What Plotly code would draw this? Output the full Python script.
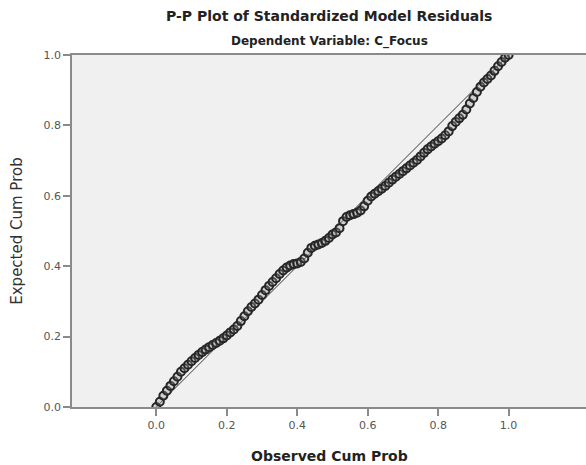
import plotly.graph_objects as go

observed = [0.00, 0.01, 0.02, 0.03, 0.04, 0.05, 0.06, 0.07, 0.08, 0.09,
            0.10, 0.11, 0.12, 0.13, 0.14, 0.15, 0.16, 0.17, 0.18, 0.19,
            0.20, 0.21, 0.22, 0.23, 0.24, 0.25, 0.26, 0.27, 0.28, 0.29,
            0.30, 0.31, 0.32, 0.33, 0.34, 0.35, 0.36, 0.37, 0.38, 0.39,
            0.40, 0.41, 0.42, 0.43, 0.44, 0.45, 0.46, 0.47, 0.48, 0.49,
            0.50, 0.51, 0.52, 0.53, 0.54, 0.55, 0.56, 0.57, 0.58, 0.59,
            0.60, 0.61, 0.62, 0.63, 0.64, 0.65, 0.66, 0.67, 0.68, 0.69,
            0.70, 0.71, 0.72, 0.73, 0.74, 0.75, 0.76, 0.77, 0.78, 0.79,
            0.80, 0.81, 0.82, 0.83, 0.84, 0.85, 0.86, 0.87, 0.88, 0.89,
            0.90, 0.91, 0.92, 0.93, 0.94, 0.95, 0.96, 0.97, 0.98, 0.99, 1.00]
expected = [0.000, 0.015, 0.032, 0.046, 0.060, 0.073, 0.086, 0.100, 0.110, 0.120,
            0.130, 0.139, 0.148, 0.156, 0.163, 0.170, 0.176, 0.182, 0.188, 0.195,
            0.203, 0.212, 0.220, 0.230, 0.244, 0.258, 0.272, 0.284, 0.294, 0.305,
            0.318, 0.332, 0.344, 0.355, 0.366, 0.378, 0.388, 0.396, 0.402, 0.406,
            0.408, 0.412, 0.422, 0.438, 0.452, 0.458, 0.462, 0.466, 0.472, 0.480,
            0.490, 0.496, 0.508, 0.528, 0.540, 0.545, 0.548, 0.552, 0.558, 0.570,
            0.586, 0.598, 0.606, 0.613, 0.620, 0.628, 0.637, 0.646, 0.654, 0.662,
            0.670, 0.678, 0.686, 0.694, 0.702, 0.712, 0.722, 0.732, 0.740, 0.748,
            0.755, 0.763, 0.772, 0.783, 0.798, 0.810, 0.820, 0.830, 0.845, 0.862,
            0.878, 0.895, 0.910, 0.922, 0.932, 0.942, 0.955, 0.968, 0.980, 0.992, 1.000]

ref_line = [0.0, 1.0]
tick_vals = [0.0, 0.2, 0.4, 0.6, 0.8, 1.0]
tick_text = ["0.0", "0.2", "0.4", "0.6", "0.8", "1.0"]

title_text = "P-P Plot of Standardized Model Residuals"
subtitle_text = "Dependent Variable: C_Focus"
x_title = "Observed Cum Prob"
y_title = "Expected Cum Prob"

FONT = "DejaVu Sans"
AXIS_COLOR = "#8a8a8a"

fig = go.Figure()
fig.add_trace(go.Scatter(
    x=ref_line, y=ref_line, mode="lines",
    line=dict(color="#3a3a3a", width=1), hoverinfo="skip", showlegend=False))
fig.add_trace(go.Scatter(
    x=observed, y=expected, mode="markers",
    marker=dict(symbol="circle", size=8, color="rgba(150,150,150,0.35)",
                line=dict(width=2, color="#262626")),
    showlegend=False))

axis_common = dict(
    showgrid=False, zeroline=False, showline=True, linecolor=AXIS_COLOR, linewidth=1.5,
    ticks="outside", ticklen=7, tickwidth=1.5, tickcolor=AXIS_COLOR,
    tickvals=tick_vals, ticktext=tick_text,
    tickfont=dict(family=FONT, size=11, color="#555555"),
)

fig.update_layout(
    width=586, height=465,
    margin=dict(l=72, r=0, t=55, b=58),
    paper_bgcolor="white", plot_bgcolor="#f0f0f0",
    xaxis=dict(range=[-0.2393, 1.2197], mirror=True, **axis_common),
    yaxis=dict(range=[0, 1], **axis_common),
    annotations=[
        dict(text="<b>" + title_text + "</b>", xref="paper", yref="paper", x=0.5, y=1.111,
             showarrow=False, xanchor="center", yanchor="middle",
             font=dict(family=FONT, size=14, color="#222222")),
        dict(text="<b>" + subtitle_text + "</b>", xref="paper", yref="paper", x=0.5, y=1.037,
             showarrow=False, xanchor="center", yanchor="middle",
             font=dict(family=FONT, size=12, color="#222222")),
        dict(text="<b>" + x_title + "</b>", xref="paper", yref="paper", x=0.5, y=-0.139,
             showarrow=False, xanchor="center", yanchor="middle",
             font=dict(family=FONT, size=14, color="#222222")),
        dict(text=y_title, xref="paper", yref="paper", x=-0.1075, y=0.5, textangle=-90,
             showarrow=False, xanchor="center", yanchor="middle",
             font=dict(family=FONT, size=15, color="#333333")),
    ],
)

fig.write_html("out.html")
